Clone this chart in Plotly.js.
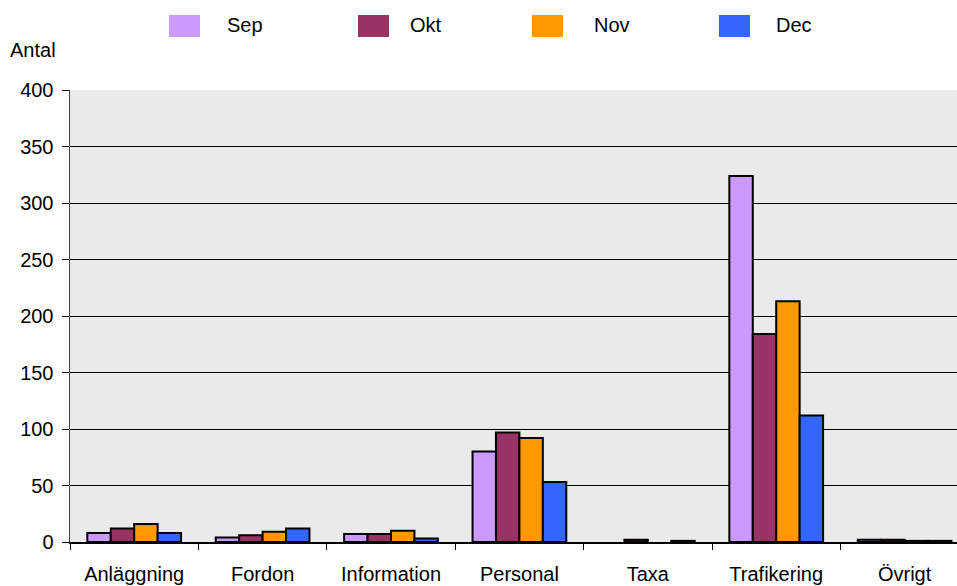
<!DOCTYPE html>
<html>
<head>
<meta charset="utf-8">
<script src="https://cdn.plot.ly/plotly-3.0.1.min.js"></script>
<style>html,body{margin:0;padding:0;background:#fff;}#chart{width:957px;height:586px;}</style>
</head>
<body>
<div id="chart"></div>
<script>
// Data
var categories = ['Anläggning', 'Fordon', 'Information', 'Personal', 'Taxa', 'Trafikering', 'Övrigt'];
var seriesNames = ['Sep', 'Okt', 'Nov', 'Dec'];
var sepValues = [8, 4, 7, 80, 0, 324, 2];
var oktValues = [12, 6, 7, 97, 2, 184, 2];
var novValues = [16, 9, 10, 92, 0, 213, 1];
var decValues = [8, 12, 3, 53, 1, 112, 1];
var yTickValues = [0, 50, 100, 150, 200, 250, 300, 350, 400];
var yAxisLabel = 'Antal';

var colors = ['#CC99FF', '#993366', '#FF9900', '#3366FF'];
var allValues = [sepValues, oktValues, novValues, decValues];
var FONT = '"Liberation Sans", Arial, sans-serif';

var traces = allValues.map(function (vals, i) {
  return {
    type: 'bar',
    name: seriesNames[i],
    x: categories,
    y: vals,
    marker: {
      color: colors[i],
      line: { color: '#000', width: vals.map(function (v) { return v === 0 ? 0 : 2; }) }
    },
    showlegend: false,
    hoverinfo: 'x+y+name'
  };
});

// pixel -> paper helpers (plot area: x 70..957, y 90..542)
function px(x) { return (x - 70) / 887; }
function py(y) { return (542 - y) / 452; }

var swatchLeft = [169, 358, 532, 719];
var textLeft = [225, 408, 592, 774];
var shapes = [];
var annotations = [];
seriesNames.forEach(function (n, i) {
  shapes.push({
    type: 'rect', xref: 'paper', yref: 'paper',
    x0: px(swatchLeft[i]), x1: px(swatchLeft[i] + 31),
    y0: py(37), y1: py(15),
    fillcolor: colors[i], line: { width: 0 }
  });
  annotations.push({
    xref: 'paper', yref: 'paper', x: px(textLeft[i]), y: py(25),
    xanchor: 'left', yanchor: 'middle', showarrow: false,
    text: n, font: { family: FONT, size: 20, color: '#000' }
  });
});
annotations.push({
  xref: 'paper', yref: 'paper', x: px(33), y: py(50),
  xanchor: 'center', yanchor: 'middle', showarrow: false,
  text: yAxisLabel, font: { family: FONT, size: 20, color: '#000' }
});

var layout = {
  width: 957, height: 586,
  margin: { l: 70, r: 0, t: 90, b: 44, pad: 0 },
  paper_bgcolor: '#ffffff',
  plot_bgcolor: '#EAEAEA',
  font: { family: FONT, size: 20, color: '#000' },
  barmode: 'group',
  bargap: 0.27,
  bargroupgap: 0,
  xaxis: {
    type: 'category',
    range: [-0.5, 6.408],
    tickson: 'boundaries',
    ticks: 'outside', ticklen: 6, tickcolor: '#000', tickwidth: 1,
    ticklabelstandoff: 13,
    showline: true, linecolor: '#000', linewidth: 1.5,
    showgrid: false, zeroline: false,
    tickfont: { family: FONT, size: 20, color: '#000' },
    fixedrange: true
  },
  yaxis: {
    range: [0, 400],
    tickvals: yTickValues,
    ticks: 'outside', ticklen: 7, tickcolor: '#000', tickwidth: 1,
    ticklabelstandoff: 4,
    showline: true, linecolor: '#444', linewidth: 1.5,
    showgrid: true, gridcolor: '#000', gridwidth: 1,
    zeroline: false,
    tickfont: { family: FONT, size: 20, color: '#000' },
    fixedrange: true
  },
  shapes: shapes,
  annotations: annotations
};

Plotly.newPlot('chart', traces, layout, { displayModeBar: false, staticPlot: true });
</script>
</body>
</html>
